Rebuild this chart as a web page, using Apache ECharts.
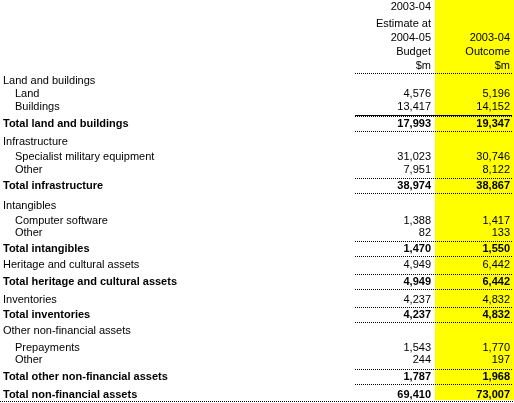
<!DOCTYPE html>
<html><head><meta charset="utf-8">
<script src="https://cdn.jsdelivr.net/npm/echarts@6/dist/echarts.min.js"></script>
<style>html,body{margin:0;padding:0;background:#fff}#c{width:514px;height:403px}</style>
</head><body><div id="c"></div>
<script>
const headerCol1 = ['2003-04','Estimate at','2004-05','Budget','$m'];
const headerCol2 = ['','','2003-04','Outcome','$m'];
const headerY = [7,24,38,52,66];
const labels = ['Land and buildings','Land','Buildings','Total land and buildings',
 'Infrastructure','Specialist military equipment','Other','Total infrastructure',
 'Intangibles','Computer software','Other','Total intangibles',
 'Heritage and cultural assets','Total heritage and cultural assets',
 'Inventories','Total inventories',
 'Other non-financial assets','Prepayments','Other','Total other non-financial assets',
 'Total non-financial assets'];
const kinds = ['h','d','d','t','h','d','d','t','h','d','d','t','s','t','s','t','h','d','d','t','g'];
const budget = ['','4,576','13,417','17,993','','31,023','7,951','38,974','','1,388','82','1,470','4,949','4,949','4,237','4,237','','1,543','244','1,787','69,410'];
const outcome = ['','5,196','14,152','19,347','','30,746','8,122','38,867','','1,417','133','1,550','6,442','6,442','4,832','4,832','','1,770','197','1,968','73,007'];
const rowY = [81,94,107,124,142,157,170,186,206,221,233,249,265,282,300,315,331,348,360,377,395];

const font = '"Liberation Sans", Arial, sans-serif';
const els = [];
els.push({type:'rect',shape:{x:435,y:0,width:79,height:400},style:{fill:'#ffff00'}});
function txt(x,y,s,align,bold){
  els.push({type:'text',x:x,y:y,style:{text:s,fill:'#000',font:(bold?'bold ':'')+'11px '+font,align:align,verticalAlign:'middle'}});
}
function line(x1,x2,y,dotted,w){
  els.push({type:'line',shape:{x1:x1,y1:y,x2:x2,y2:y},style:{stroke:'#000',lineWidth:w||1,lineDash:dotted?[1,1]:null}});
}
headerCol1.forEach((s,i)=>txt(431,headerY[i],s,'right',false));
headerCol2.forEach((s,i)=>{ if(s) txt(510,headerY[i],s,'right',false); });
line(355,512,73.5,true);
labels.forEach((s,i)=>{
  const k = kinds[i], bold = (k==='t'||k==='g');
  const x = k==='d' ? 15 : 3;
  txt(x,rowY[i],s,'left',bold);
  if(budget[i]) txt(431,rowY[i],budget[i],'right',bold);
  if(outcome[i]) txt(510,rowY[i],outcome[i],'right',bold);
  if(k==='t'){
    if(i===3) line(355,512,rowY[i]-8.5,false);
    line(355,512,rowY[i]-7.5,true);
    line(355,512,rowY[i]+7.5,true);
  }
  if(k==='g') line(0,514,rowY[i]+6.5,true);
});
const chart = echarts.init(document.getElementById('c'));
chart.setOption({animation:false,graphic:{elements:els}});
</script></body></html>
